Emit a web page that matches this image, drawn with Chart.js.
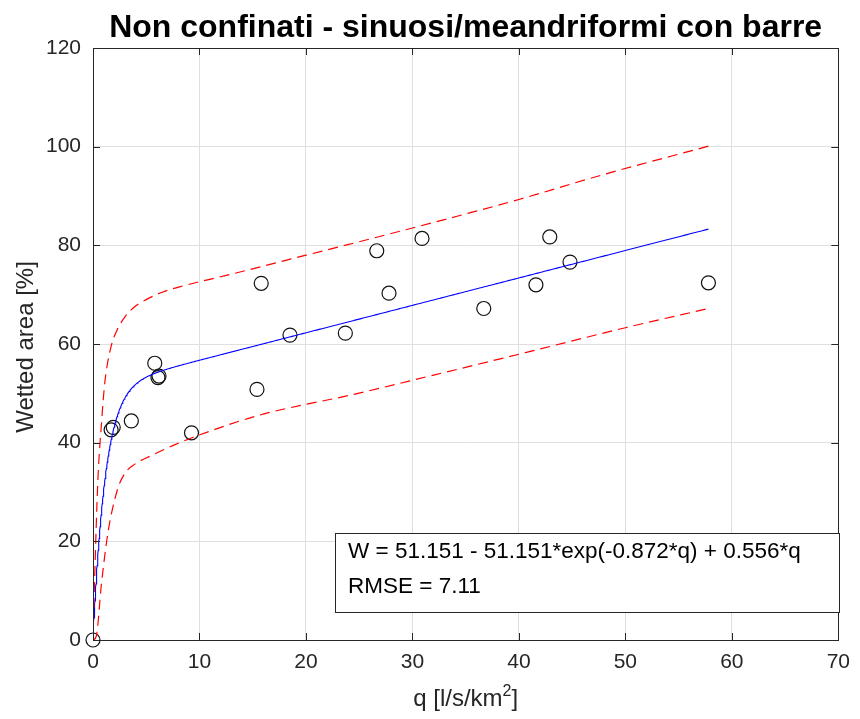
<!DOCTYPE html>
<html>
<head>
<meta charset="utf-8">
<script src="https://cdn.jsdelivr.net/npm/chart.js@4.4.1/dist/chart.umd.min.js"></script>
<style>
  html, body { margin: 0; padding: 0; background: #ffffff; }
  #wrap { width: 860px; height: 719px; }
</style>
</head>
<body>
<div id="wrap"><canvas id="c" width="860" height="719"></canvas></div>
<script>
// Observed specific discharge q [l/s/km²] and wetted area W [%]
const qObs = [0, 1.7, 1.9, 3.6, 5.8, 6.1, 6.2, 9.25, 15.4, 15.8, 18.5, 23.7, 26.65, 27.8, 30.9, 36.7, 41.6, 42.9, 44.8, 57.8];
const wObs = [0, 42.6, 43.1, 44.4, 56.1, 53.2, 53.5, 42.0, 50.8, 72.3, 61.8, 62.2, 78.9, 70.3, 81.4, 67.2, 72.0, 81.7, 76.6, 72.4];

// Fitted model coefficients: W = a - a*exp(-b*q) + c*q
const fitA = 51.151;
const fitB = 0.872;
const fitC = 0.556;
const rmse = 7.11;

// Upper and lower prediction bounds
const qUpper = [0, 0.15, 0.45, 0.8, 1.1, 1.7, 2.3, 3.0, 4.0, 5.0, 6.5, 8.5, 12.7, 20, 26.4, 33.5, 40, 47.7, 57.8];
const wUpper = [0, 12, 32, 44, 52, 59.5, 63, 65.5, 67.7, 69, 70.5, 71.8, 74, 78, 81.5, 85.5, 89.3, 94.2, 100.1];
const qLower = [0, 0.3, 0.8, 1.4, 2.3, 3.0, 3.9, 5.4, 7.6, 9.3, 15.5, 24.5, 32, 40.7, 50, 57.8];
const wLower = [0, 0.7, 11.5, 21.7, 30.5, 33.8, 35.6, 37.3, 39.5, 41.0, 45.5, 49.8, 53.7, 58.3, 63.3, 67.2];

// Axis ticks
const xTicks = [0, 10, 20, 30, 40, 50, 60, 70];
const yTicks = [0, 20, 40, 60, 80, 100, 120];

const titleText = 'Non confinati - sinuosi/meandriformi con barre';
const yLabel = 'Wetted area [%]';
const eqText = 'W = ' + fitA.toFixed(3) + ' - ' + fitA.toFixed(3) + '*exp(-' + fitB.toFixed(3) + '*q) + ' + fitC.toFixed(3) + '*q';
const rmseText = 'RMSE = ' + rmse.toFixed(2);

const FONT = '"Liberation Sans", Arial, Helvetica, sans-serif';
const AXIS_COLOR = '#262626';

// Fit curve evaluated from the stated coefficients over the observed range
const qMax = Math.max(...qObs);
const fitPts = [];
for (let i = 0; i <= 400; i++) {
  const q = qMax * Math.pow(i / 400, 2);
  fitPts.push({ x: q, y: fitA - fitA * Math.exp(-fitB * q) + fitC * q });
}

const zip = (xs, ys) => xs.map((x, i) => ({ x: x, y: ys[i] }));

const framePlugin = {
  id: 'frame',
  afterDatasetsDraw(chart) {
    const { ctx, chartArea: a, scales } = chart;
    ctx.save();
    // axes box
    ctx.strokeStyle = AXIS_COLOR;
    ctx.lineWidth = 1;
    ctx.strokeRect(Math.round(a.left) + 0.5, Math.round(a.top) + 0.5,
                   Math.round(a.right - a.left), Math.round(a.bottom - a.top));
    // inward tick marks on all four sides
    const tl = 7;
    ctx.beginPath();
    xTicks.forEach(v => {
      const x = Math.round(scales.x.getPixelForValue(v)) + 0.5;
      ctx.moveTo(x, a.bottom); ctx.lineTo(x, a.bottom - tl);
      ctx.moveTo(x, a.top); ctx.lineTo(x, a.top + tl);
    });
    yTicks.forEach(v => {
      const y = Math.round(scales.y.getPixelForValue(v)) + 0.5;
      ctx.moveTo(a.left, y); ctx.lineTo(a.left + tl, y);
      ctx.moveTo(a.right, y); ctx.lineTo(a.right - tl, y);
    });
    ctx.stroke();

    // equation box
    const bx = 335, by = 533, bw = 504, bh = 79;
    ctx.fillStyle = '#ffffff';
    ctx.fillRect(bx, by, bw, bh);
    ctx.strokeStyle = AXIS_COLOR;
    ctx.strokeRect(bx + 0.5, by + 0.5, bw, bh);
    ctx.fillStyle = '#000000';
    ctx.font = '22.5px ' + FONT;
    ctx.textAlign = 'left';
    ctx.textBaseline = 'middle';
    ctx.fillText(eqText, 348, 552);
    ctx.fillText(rmseText, 348, 587);

    // title
    const cx = (a.left + a.right) / 2;
    ctx.fillStyle = '#000000';
    ctx.font = 'bold 32px ' + FONT;
    ctx.textAlign = 'center';
    ctx.textBaseline = 'alphabetic';
    ctx.fillText(titleText, cx, 37);

    // x axis label with superscript
    ctx.fillStyle = AXIS_COLOR;
    const mainFont = '24px ' + FONT;
    const supFont = '16px ' + FONT;
    const p1 = 'q [l/s/km', p2 = '2', p3 = ']';
    ctx.font = mainFont; const w1 = ctx.measureText(p1).width; const w3 = ctx.measureText(p3).width;
    ctx.font = supFont; const w2 = ctx.measureText(p2).width;
    let x0 = cx - (w1 + w2 + w3) / 2;
    const base = 706;
    ctx.textAlign = 'left';
    ctx.font = mainFont; ctx.fillText(p1, x0, base);
    ctx.font = supFont; ctx.fillText(p2, x0 + w1, base - 10);
    ctx.font = mainFont; ctx.fillText(p3, x0 + w1 + w2, base);

    // y axis label
    ctx.save();
    ctx.translate(26, (a.top + a.bottom) / 2 + 3);
    ctx.rotate(-Math.PI / 2);
    ctx.textAlign = 'center';
    ctx.textBaseline = 'middle';
    ctx.font = '24px ' + FONT;
    ctx.fillText(yLabel, 0, 0);
    ctx.restore();

    ctx.restore();
  }
};

new Chart(document.getElementById('c'), {
  type: 'scatter',
  data: {
    datasets: [
      {
        label: 'Observed',
        data: zip(qObs, wObs),
        showLine: false,
        pointStyle: 'circle',
        pointRadius: 7,
        pointHoverRadius: 7,
        borderColor: '#111111',
        backgroundColor: 'rgba(0,0,0,0)',
        borderWidth: 1.2,
        clip: false,
        order: 3
      },
      {
        label: 'Fit',
        data: fitPts,
        showLine: true,
        pointRadius: 0,
        borderColor: '#0000ff',
        borderWidth: 1.1,
        order: 2
      },
      {
        label: 'Upper bound',
        data: zip(qUpper, wUpper),
        showLine: true,
        pointRadius: 0,
        borderColor: '#ff0000',
        borderWidth: 1.2,
        borderDash: [10, 6],
        cubicInterpolationMode: 'monotone',
        order: 1
      },
      {
        label: 'Lower bound',
        data: zip(qLower, wLower),
        showLine: true,
        pointRadius: 0,
        borderColor: '#ff0000',
        borderWidth: 1.2,
        borderDash: [10, 6],
        cubicInterpolationMode: 'monotone',
        order: 1
      }
    ]
  },
  options: {
    responsive: false,
    animation: false,
    devicePixelRatio: 1,
    layout: { padding: { top: 48, right: 17, left: 0, bottom: 0 } },
    plugins: {
      legend: { display: false },
      tooltip: { enabled: false },
      title: { display: false }
    },
    scales: {
      x: {
        type: 'linear',
        min: 0, max: 70,
        afterBuildTicks: s => { s.ticks = xTicks.map(v => ({ value: v })); },
        afterFit: s => { s.height = 79; },
        grid: { color: '#dfdfdf', lineWidth: 1, drawTicks: false },
        border: { display: false },
        ticks: { color: AXIS_COLOR, font: { family: FONT, size: 21 }, padding: 10, maxRotation: 0 }
      },
      y: {
        type: 'linear',
        min: 0, max: 120,
        afterBuildTicks: s => { s.ticks = yTicks.map(v => ({ value: v })); },
        afterFit: s => { s.width = 93; },
        grid: { color: '#dfdfdf', lineWidth: 1, drawTicks: false },
        border: { display: false },
        ticks: { color: AXIS_COLOR, font: { family: FONT, size: 21 }, padding: 12 }
      }
    }
  },
  plugins: [framePlugin]
});
</script>
</body>
</html>
